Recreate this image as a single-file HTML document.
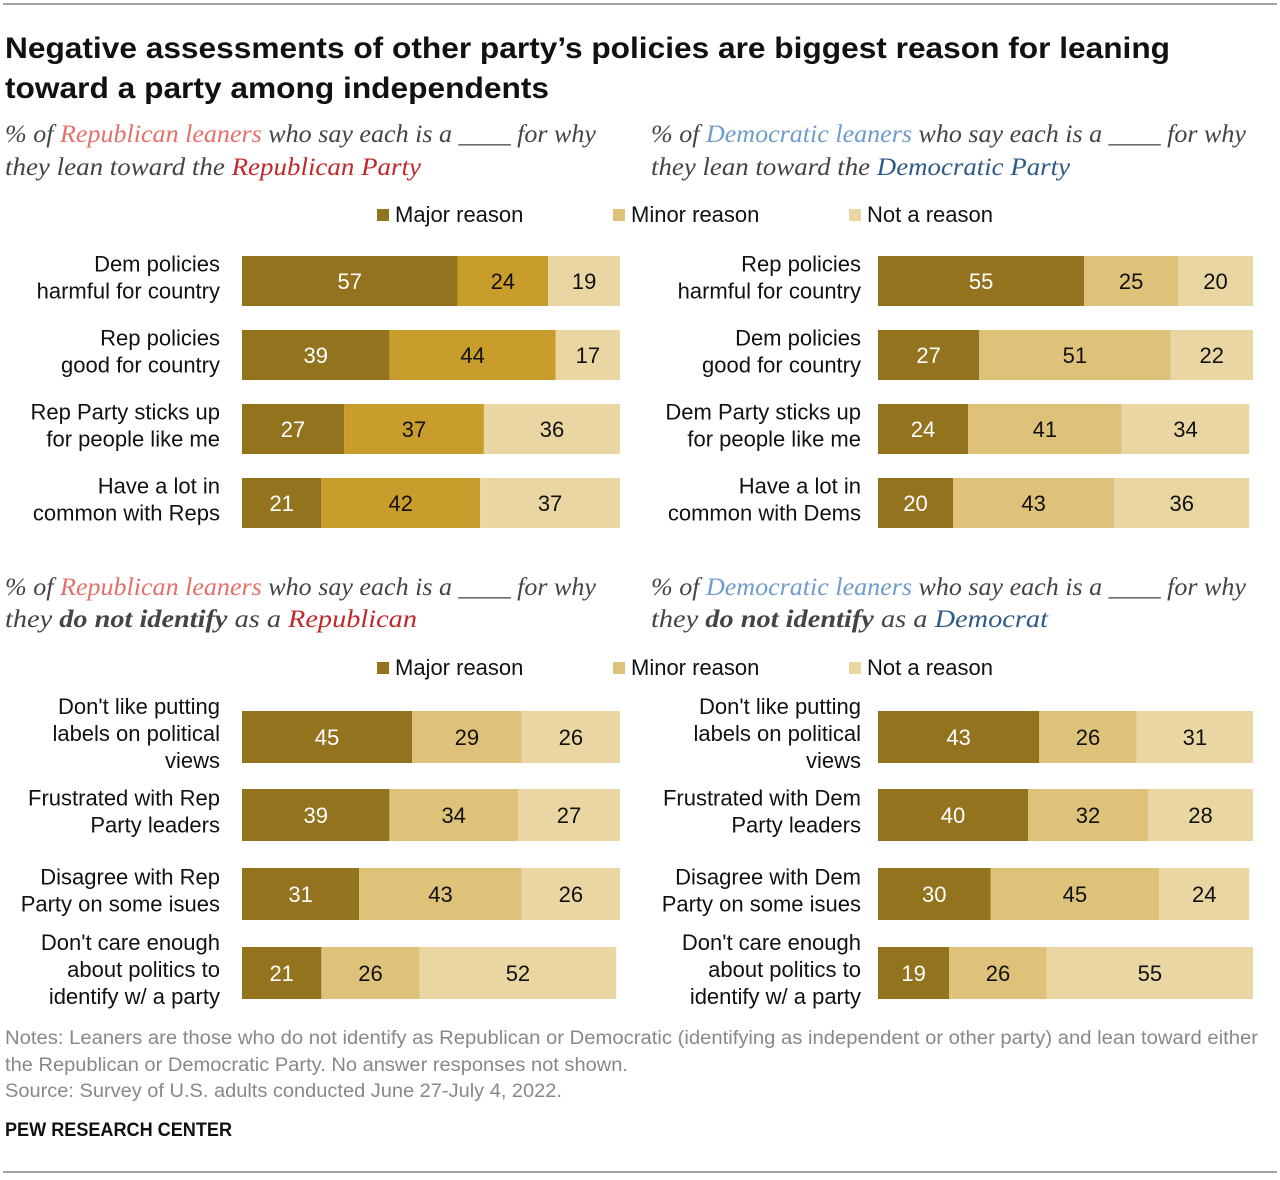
<!DOCTYPE html>
<html><head><meta charset="utf-8">
<style>
html,body{margin:0;padding:0;background:#fff;}
svg{display:block;}
.t{font-family:"Liberation Sans",Arial,sans-serif;}
.s{font-family:"Liberation Serif",serif;font-style:italic;}
</style></head>
<body>
<svg id="c" width="1280" height="1180" viewBox="0 0 1280 1180" xmlns="http://www.w3.org/2000/svg">
<line x1="3" y1="4" x2="1277" y2="4" stroke="#444" stroke-width="1"/>
<text class="t" x="5" y="58" font-size="30" font-weight="bold" fill="#111" textLength="1165" lengthAdjust="spacingAndGlyphs">Negative assessments of other party’s policies are biggest reason for leaning</text>
<text class="t" x="5" y="98" font-size="30" font-weight="bold" fill="#111" textLength="544" lengthAdjust="spacingAndGlyphs">toward a party among independents</text>

<g class="s" font-size="25" fill="#444">
<text x="5" y="142" textLength="591" lengthAdjust="spacingAndGlyphs">% of <tspan fill="#e5706a">Republican leaners</tspan> who say each is a ____ for why</text>
<text x="5" y="175" textLength="416" lengthAdjust="spacingAndGlyphs">they lean toward the <tspan fill="#c0282a">Republican Party</tspan></text>
<text x="651" y="142" textLength="595" lengthAdjust="spacingAndGlyphs">% of <tspan fill="#6f9ccb">Democratic leaners</tspan> who say each is a ____ for why</text>
<text x="651" y="175" textLength="419" lengthAdjust="spacingAndGlyphs">they lean toward the <tspan fill="#2f5a88">Democratic Party</tspan></text>
<text x="5" y="595" textLength="591" lengthAdjust="spacingAndGlyphs">% of <tspan fill="#e5706a">Republican leaners</tspan> who say each is a ____ for why</text>
<text x="5" y="627" textLength="412" lengthAdjust="spacingAndGlyphs">they <tspan font-weight="bold">do not identify</tspan> as a <tspan fill="#c0282a">Republican</tspan></text>
<text x="651" y="595" textLength="595" lengthAdjust="spacingAndGlyphs">% of <tspan fill="#6f9ccb">Democratic leaners</tspan> who say each is a ____ for why</text>
<text x="651" y="627" textLength="397" lengthAdjust="spacingAndGlyphs">they <tspan font-weight="bold">do not identify</tspan> as a <tspan fill="#2f5a88">Democrat</tspan></text>
</g>

<g id="legends"></g>
<g id="panels"></g>

<g class="t" font-size="19" fill="#888">
<text x="5" y="1044" textLength="1253" lengthAdjust="spacingAndGlyphs">Notes: Leaners are those who do not identify as Republican or Democratic (identifying as independent or other party) and lean toward either</text>
<text x="5" y="1071" textLength="623" lengthAdjust="spacingAndGlyphs">the Republican or Democratic Party. No answer responses not shown.</text>
<text x="5" y="1097" textLength="557" lengthAdjust="spacingAndGlyphs">Source: Survey of U.S. adults conducted June 27-July 4, 2022.</text>
</g>
<text class="t" x="5" y="1136" font-size="19" font-weight="bold" fill="#111" textLength="227" lengthAdjust="spacingAndGlyphs">PEW RESEARCH CENTER</text>
<line x1="3" y1="1172" x2="1277" y2="1172" stroke="#444" stroke-width="1"/>
</svg>
<script>
// Panel 1: Republican leaners - why lean
const p1Labels = [["Dem policies","harmful for country"],["Rep policies","good for country"],["Rep Party sticks up","for people like me"],["Have a lot in","common with Reps"]];
const p1Major = [57,39,27,21];
const p1Minor = [24,44,37,42];
const p1Not = [19,17,36,37];
// Panel 2: Democratic leaners - why lean
const p2Labels = [["Rep policies","harmful for country"],["Dem policies","good for country"],["Dem Party sticks up","for people like me"],["Have a lot in","common with Dems"]];
const p2Major = [55,27,24,20];
const p2Minor = [25,51,41,43];
const p2Not = [20,22,34,36];
// Panel 3: Republican leaners - why not identify
const p3Labels = [["Don't like putting","labels on political","views"],["Frustrated with Rep","Party leaders"],["Disagree with Rep","Party on some isues"],["Don't care enough","about politics to","identify w/ a party"]];
const p3Major = [45,39,31,21];
const p3Minor = [29,34,43,26];
const p3Not = [26,27,26,52];
// Panel 4: Democratic leaners - why not identify
const p4Labels = [["Don't like putting","labels on political","views"],["Frustrated with Dem","Party leaders"],["Disagree with Dem","Party on some isues"],["Don't care enough","about politics to","identify w/ a party"]];
const p4Major = [43,40,30,19];
const p4Minor = [26,32,45,26];
const p4Not = [31,28,24,55];
const legendNames = ["Major reason","Minor reason","Not a reason"];

const NS = "http://www.w3.org/2000/svg";
const panelsG = document.getElementById('panels');
const legG = document.getElementById('legends');
function mk(tag, attrs, parent){
  const e = document.createElementNS(NS, tag);
  for (const k in attrs) e.setAttribute(k, attrs[k]);
  parent.appendChild(e); return e;
}
const MAJOR="#94731f", MINOR_R="#c99d2c", MINOR="#dec27a", NOT="#e9d6a3";

function legend(y){
  const xs=[377,613,849], cols=[MAJOR,MINOR,NOT];
  for(let i=0;i<3;i++){
    const r = mk('rect',{x:xs[i],y:y-13,width:12,height:12,fill:cols[i]},legG);
    
    
    const t = mk('text',{x:xs[i]+18,y:y,'font-size':22,fill:'#111',class:'t'},legG);
    t.textContent = legendNames[i];
    
    
  }
}
legend(222); legend(675);

function panel(name, labels, maj, min, not, x0, width, labelX, rowY, barH, minorCol){
  const g = mk('g',{},panelsG);
  
  
  const sx = v => v*width/100;
  for(let i=0;i<labels.length;i++){
    const y = rowY[i];
    const vals=[maj[i],min[i],not[i]], cols=[MAJOR,minorCol,NOT], tc=['#fff','#111','#111'], segn=['major','minor','not'];
    let x = x0;
    for(let j=0;j<3;j++){
      const w = sx(vals[j]);
      const r = mk('rect',{x:x,y:y,width:w,height:barH,fill:cols[j]},g);
      
      
      const t = mk('text',{x:x+w/2,y:y+barH/2+8,'text-anchor':'middle','font-size':22,fill:tc[j],class:'t'},g);
      t.textContent = vals[j];
      
      
      x += w;
    }
    const lines = labels[i], lh = 27;
    const cy = y + barH/2;
    const startY = cy - (lines.length-1)*lh/2 + 4;
    const lt = mk('text',{'text-anchor':'end','font-size':22,fill:'#111',class:'t'},g);
    
    
    lines.forEach((s,k)=>{ const ts = mk('tspan',{x:labelX,y:startY+k*lh},lt); ts.textContent=s; });
  }
}
const topRows=[256,330,404,478], botRows=[711,789,868,947];
panel('panel-rep-lean', p1Labels,p1Major,p1Minor,p1Not,242,378,220,topRows,50,MINOR_R);
panel('panel-dem-lean', p2Labels,p2Major,p2Minor,p2Not,878,375,861,topRows,50,MINOR);
panel('panel-rep-notid',p3Labels,p3Major,p3Minor,p3Not,242,378,220,botRows,52,MINOR);
panel('panel-dem-notid',p4Labels,p4Major,p4Minor,p4Not,878,375,861,botRows,52,MINOR);
</script>
</body></html>
